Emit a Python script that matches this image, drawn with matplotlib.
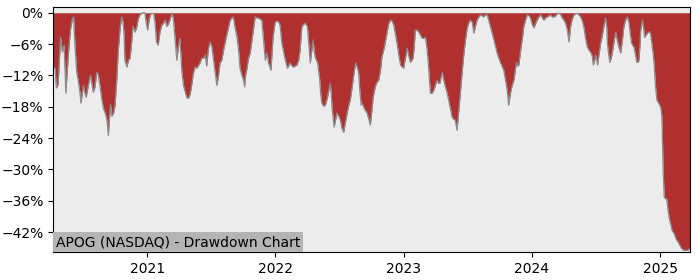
import matplotlib
matplotlib.use("Agg")
import matplotlib.pyplot as plt
import matplotlib.dates as mdates
from matplotlib.ticker import MultipleLocator, PercentFormatter
import numpy as np
import pandas as pd

title = "APOG (NASDAQ) - Drawdown Chart"
start_date = "2020-04-08"

# days since start_date
days = [0, 5, 9, 14, 21, 26, 31, 36, 43, 49, 55, 58, 62, 67, 71, 76, 79, 86, 90, 94,
        100, 106, 110, 114, 119, 124, 128, 133, 138, 143, 149, 153, 157, 163, 167, 172, 176, 181, 185, 191,
        195, 199, 202, 204, 210, 214, 219, 224, 227, 233, 238, 242, 247, 252, 257, 261, 266, 269, 273, 277,
        281, 286, 290, 294, 299, 304, 309, 314, 319, 323, 328, 333, 338, 342, 347, 352, 356, 361, 366, 371,
        376, 380, 385, 390, 395, 399, 404, 409, 413, 418, 423, 428, 433, 437, 442, 447, 452, 456, 461, 466,
        471, 475, 480, 485, 490, 494, 499, 504, 509, 513, 518, 523, 528, 532, 537, 542, 545, 548, 552, 556,
        561, 566, 570, 575, 580, 585, 589, 594, 599, 604, 609, 613, 620, 626, 632, 637, 642, 646, 651, 656,
        661, 667, 675, 680, 684, 694, 699, 703, 708, 713, 718, 724, 728, 732, 736, 740, 743, 746, 753, 759,
        762, 765, 770, 775, 781, 789, 792, 794, 798, 800, 805, 808, 813, 818, 822, 827, 832, 837, 841, 846,
        851, 855, 861, 865, 870, 873, 877, 880, 884, 889, 894, 898, 903, 907, 911, 917, 922, 927, 932, 936,
        943, 951, 955, 960, 965, 970, 974, 979, 984, 989, 994, 998, 1003, 1008, 1012, 1017, 1021, 1025, 1029, 1031,
        1036, 1041, 1046, 1051, 1055, 1060, 1065, 1069, 1074, 1079, 1084, 1088, 1093, 1097, 1101, 1104, 1108, 1112, 1117, 1122,
        1126, 1131, 1136, 1141, 1145, 1150, 1155, 1160, 1165, 1169, 1174, 1179, 1183, 1188, 1193, 1198, 1203, 1207, 1212, 1217,
        1222, 1226, 1231, 1236, 1240, 1245, 1250, 1255, 1260, 1264, 1269, 1274, 1279, 1283, 1288, 1293, 1297, 1302, 1307, 1312,
        1316, 1319, 1323, 1326, 1331, 1336, 1340, 1345, 1350, 1355, 1359, 1364, 1369, 1374, 1378, 1383, 1388, 1393, 1397, 1402,
        1407, 1412, 1416, 1421, 1426, 1431, 1435, 1440, 1445, 1450, 1454, 1459, 1464, 1469, 1473, 1478, 1483, 1488, 1493, 1497,
        1502, 1507, 1511, 1516, 1521, 1526, 1530, 1535, 1538, 1542, 1545, 1548, 1550, 1554, 1559, 1564, 1568, 1573, 1576, 1578,
        1582, 1585, 1589, 1592, 1597, 1602, 1605, 1608, 1612, 1616, 1621, 1625, 1630, 1635, 1640, 1643, 1647, 1650, 1654, 1658,
        1662, 1665, 1668, 1671, 1673, 1678, 1682, 1684, 1688, 1692, 1696, 1700, 1703, 1706, 1709, 1711, 1715, 1719, 1722, 1726,
        1730, 1733, 1735, 1737, 1740, 1743, 1747, 1751, 1754, 1757, 1761, 1764, 1768, 1772, 1776, 1779, 1782, 1786, 1789, 1793,
        1796, 1801, 1806, 1810, 1814]

# drawdown in percent
drawdown = [-10.4, -10.6, -14.4, -13.7, -4.7, -7.5, -6.2, -15.4, -8.1, -3.3, -1.0, -0.8, -6.2, -11.4, -12.9, -15.2, -17.3, -13.9, -15.4, -16.2,
            -13.9, -11.9, -13.5, -15.2, -14.2, -11.4, -11.8, -13.9, -16.4, -18.3, -19.4, -20.6, -23.5, -17.5, -19.8, -19.2, -17.7, -12.9, -7.5, -2.7,
            -0.8, -1.8, -4.3, -9.1, -10.4, -9.1, -8.7, -5.2, -2.6, -3.7, -2.7, -1.2, -0.4, -0.1, 0.0, 0.0, -2.4, -3.3, -1.4, -0.3,
            -0.1, -0.2, -1.8, -5.6, -6.2, -3.7, -2.4, -2.0, -1.4, -2.6, -2.2, -1.2, -0.1, -1.0, -4.9, -9.1, -6.8, -4.9, -11.0, -13.9,
            -15.2, -16.2, -16.4, -15.6, -13.5, -11.6, -10.4, -10.6, -10.2, -9.6, -8.7, -8.7, -8.1, -10.2, -6.8, -5.6, -6.6, -8.7, -11.4, -13.9,
            -11.9, -9.6, -9.1, -7.2, -5.6, -4.3, -2.9, -1.4, -1.0, -0.8, -2.9, -4.5, -7.2, -10.6, -11.9, -12.9, -14.2, -11.9, -10.6, -8.7,
            -7.7, -5.2, -3.3, -0.8, -1.0, -1.0, -1.2, -1.4, -5.2, -9.1, -7.7, -9.6, -11.0, -4.7, -1.8, -1.6, -1.8, -2.4, -5.8, -7.5,
            -9.1, -10.6, -9.6, -10.2, -10.4, -10.0, -9.1, -7.2, -2.7, -2.2, -2.0, -2.7, -6.2, -9.6, -7.5, -5.2, -7.2, -8.5, -9.6, -12.9,
            -15.8, -17.3, -17.9, -17.7, -16.2, -13.5, -15.8, -18.1, -20.6, -21.9, -20.2, -19.2, -19.8, -20.6, -22.1, -22.9, -21.0, -19.2, -17.9, -16.7,
            -14.4, -12.3, -9.6, -10.2, -11.6, -14.8, -17.7, -17.3, -18.1, -18.7, -19.2, -20.2, -21.5, -19.0, -16.2, -14.2, -13.3, -12.9, -11.0, -8.5,
            -6.6, -3.7, -2.2, -1.4, -1.6, -2.4, -3.9, -5.8, -8.1, -10.0, -10.4, -10.6, -8.7, -6.8, -8.1, -9.5, -9.1, -8.7, -5.6, -3.3,
            -3.3, -3.7, -4.3, -4.9, -4.9, -4.7, -7.2, -10.4, -15.4, -15.4, -14.8, -13.9, -12.9, -13.5, -13.5, -12.5, -11.4, -12.9, -14.2, -15.4,
            -16.7, -18.3, -20.0, -20.4, -20.6, -22.5, -18.7, -14.8, -11.0, -8.1, -5.2, -2.9, -2.0, -1.4, -1.8, -3.9, -2.4, -1.4, -0.8, -0.4,
            -0.6, -0.8, -0.4, -0.4, -1.4, -2.7, -3.9, -5.2, -6.6, -7.7, -8.7, -9.6, -10.4, -11.0, -12.9, -14.8, -17.7, -15.4, -13.9, -12.9,
            -11.0, -9.5, -10.2, -10.0, -7.2, -4.9, -2.7, -1.4, -0.4, -0.6, -1.0, -2.2, -2.9, -2.0, -1.4, -0.8, -0.4, -1.0, -1.4, -1.0,
            -0.8, -0.6, -0.4, -0.8, -0.8, -0.6, -0.2, -0.1, -0.4, -1.0, -1.4, -2.0, -3.3, -5.6, -2.7, -1.2, -0.4, -0.2, -0.1, -0.4,
            -0.8, -1.6, -2.7, -4.9, -6.6, -7.2, -7.5, -8.3, -10.0, -9.1, -8.1, -9.1, -10.0, -8.1, -5.8, -4.3, -2.7, -1.0, -2.4, -5.8,
            -8.1, -9.5, -8.7, -7.7, -5.6, -3.7, -4.9, -5.8, -6.8, -7.7, -5.2, -2.7, -1.4, -0.8, -2.0, -3.9, -5.8, -6.2, -6.6, -8.1,
            -9.5, -9.5, -9.1, -6.2, -3.3, -1.4, -3.3, -4.7, -4.3, -3.9, -3.7, -3.7, -4.9, -6.6, -8.1, -9.6, -13.9, -16.7, -17.1, -17.5,
            -18.1, -19.6, -24.4, -30.2, -35.3, -35.6, -35.6, -37.9, -39.2, -40.1, -41.3, -41.9, -42.2, -43.0, -43.6, -43.8, -44.2, -44.7, -45.1, -45.3,
            -45.5, -45.5, -45.5, -45.3, -45.1]

dates = pd.Timestamp(start_date) + pd.to_timedelta(days, unit="D")
dd = np.array(drawdown)

fig = plt.figure(figsize=(7, 2.8), dpi=100)
ax = fig.add_axes([0.076, 0.1, 0.91, 0.875])
ax.set_facecolor("#ececec")

ax.fill_between(dates, dd, 0, color="#b03030", linewidth=0)
ax.plot(dates, dd, color="#8c8c8c", linewidth=0.9)

ax.set_xlim(dates[0], dates[-1])
ax.set_ylim(-45.8, 1.1)
ax.yaxis.set_major_locator(MultipleLocator(6))
ax.yaxis.set_major_formatter(PercentFormatter(xmax=100, decimals=0))
ax.xaxis.set_major_locator(mdates.YearLocator())
ax.xaxis.set_major_formatter(mdates.DateFormatter("%Y"))
ax.tick_params(labelsize=10)

ax.text(0.0045, 0.012, title, transform=ax.transAxes, fontsize=10,
        ha="left", va="bottom",
        bbox=dict(boxstyle="square,pad=0.2", facecolor="#b4b4b4", edgecolor="none"))

fig.savefig("out.png", dpi=100)
